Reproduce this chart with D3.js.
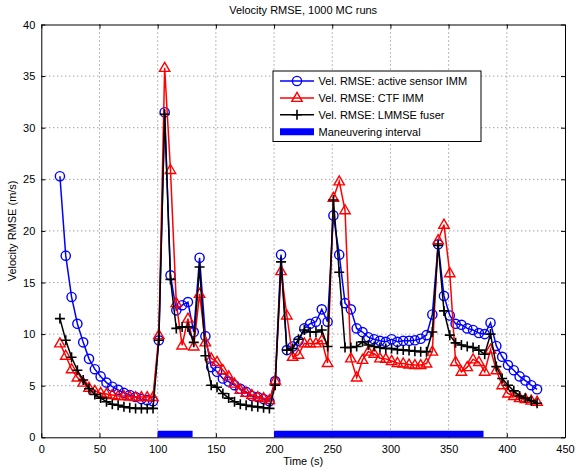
<!DOCTYPE html>
<html>
<head>
<meta charset="utf-8">
<script src="https://cdn.jsdelivr.net/npm/d3@7"></script>
<style>
body { margin: 0; background: #fff; }
text { font-family: "Liberation Sans", Arial, sans-serif; }
</style>
</head>
<body>
<script>
var w = 576;
var h = 468;

// time stamps (s)
var times = [16,21,26,31,36,41,46,51,56,61,66,71,76,81,86,91,96,
  101,106,111,116,121,126,131,136,141,146,151,156,161,166,171,176,181,186,191,196,
  201,206,211,216,221,226,231,236,241,246,251,256,261,266,271,276,281,286,291,296,
  301,306,311,316,321,326,331,336,341,346,351,356,361,366,371,376,381,386,391,396,
  401,406,411,416,421,426];

var activeImm = [25.3,17.6,13.6,11.0,9.2,7.6,6.6,5.9,5.3,4.9,4.6,4.3,4.1,3.9,3.7,3.6,3.5,
  9.4,31.5,15.7,12.3,12.8,13.1,10.2,17.4,9.8,6.8,6.35,5.7,5.4,5.05,4.7,4.4,4.0,3.9,3.7,3.5,
  5.45,17.7,8.45,8.8,9.35,10.55,11.0,11.2,12.4,11.2,21.5,17.7,13.0,12.4,10.55,10.2,9.7,9.5,9.35,9.25,
  9.5,9.25,9.35,9.35,9.4,9.55,9.9,11.9,18.7,13.7,11.8,11.0,10.9,10.55,10.4,10.1,10.0,11.1,8.85,7.8,
  7.0,6.5,5.9,5.5,5.05,4.65];

var ctfImm = [9.1,7.9,6.6,5.8,5.3,4.8,4.5,4.3,4.2,4.1,4.0,4.0,3.95,3.9,3.9,3.9,3.9,
  9.9,35.8,25.9,13.0,8.9,11.5,8.8,13.9,9.2,7.65,7.3,6.5,5.9,5.2,4.6,4.3,4.1,3.9,3.8,3.6,
  5.5,16.1,11.8,7.8,8.0,9.1,9.1,9.1,9.4,7.2,23.2,24.8,22.0,7.65,5.8,7.5,8.3,8.1,7.65,7.6,
  7.4,7.2,7.15,7.05,7.0,7.0,7.15,8.3,19.1,20.6,15.9,7.3,6.35,6.8,7.55,7.3,6.35,8.5,6.5,5.05,
  4.25,4.0,3.8,3.7,3.55,3.45];

var lmmse = [11.5,9.4,7.75,6.5,5.55,4.7,4.15,3.8,3.45,3.2,3.1,2.95,2.87,2.8,2.8,2.8,2.8,
  9.4,31.3,15.3,10.55,10.7,10.7,9.2,16.5,7.9,5.05,4.85,4.25,3.8,3.45,3.2,3.1,3.0,2.95,2.87,2.8,
  5.05,17.0,8.45,8.6,9.5,10.4,10.2,10.2,10.4,8.8,23.0,16.0,8.7,8.7,8.8,9.25,8.95,8.8,8.7,8.6,
  8.6,8.5,8.45,8.4,8.35,8.3,8.3,10.2,18.6,12.25,9.9,9.15,8.95,8.8,8.7,8.45,8.05,10.0,6.85,5.7,
  5.05,4.5,4.0,3.8,3.55,3.3];

// maneuvering intervals [start, end]
var maneuvers = [[100,130],[200,380]];
var maneuverLevel = 0.3;

var xTicks = [0,50,100,150,200,250,300,350,400,450];
var yTicks = [0,5,10,15,20,25,30,35,40];

var pLeft = 41.3, pRight = 565, pTop = 24.5, pBottom = 437.3;

var svg = d3.select("body")
            .append("svg")
            .attr("width", w)
            .attr("height", h);

var x = d3.scaleLinear().domain([0,450]).range([pLeft,pRight]);
var y = d3.scaleLinear().domain([0,40]).range([pBottom,pTop]);

svg.append("defs").append("clipPath").attr("id","clip")
   .append("rect").attr("x",pLeft).attr("y",pTop)
   .attr("width",pRight-pLeft).attr("height",pBottom-pTop);

/**** grid ****/
svg.selectAll("line.gx").data(xTicks.slice(1,-1)).enter().append("line")
   .attr("x1",function(d){return x(d);}).attr("x2",function(d){return x(d);})
   .attr("y1",pTop).attr("y2",pBottom)
   .attr("stroke","#777").attr("stroke-width",1).attr("stroke-dasharray","1,3");
svg.selectAll("line.gy").data(yTicks.slice(1,-1)).enter().append("line")
   .attr("y1",function(d){return y(d);}).attr("y2",function(d){return y(d);})
   .attr("x1",pLeft).attr("x2",pRight)
   .attr("stroke","#777").attr("stroke-width",1).attr("stroke-dasharray","1,3");

/**** axes (inward ticks, box) ****/
var fmt = d3.format("d");
svg.append("g").attr("transform","translate(0,"+pBottom+")")
   .call(d3.axisBottom(x).tickValues(xTicks).tickFormat(fmt).tickSizeInner(-4).tickSizeOuter(0).tickPadding(8));
svg.append("g").attr("transform","translate("+pLeft+",0)")
   .call(d3.axisLeft(y).tickValues(yTicks).tickFormat(fmt).tickSizeInner(-4).tickSizeOuter(0).tickPadding(6));
svg.append("g").attr("transform","translate(0,"+pTop+")")
   .call(d3.axisTop(x).tickValues(xTicks).tickFormat("").tickSizeInner(-4).tickSizeOuter(0));
svg.append("g").attr("transform","translate("+pRight+",0)")
   .call(d3.axisRight(y).tickValues(yTicks).tickFormat("").tickSizeInner(-4).tickSizeOuter(0));
svg.selectAll(".domain").attr("stroke","#000");
svg.selectAll(".tick line").attr("stroke","#000");
svg.selectAll(".tick text").attr("font-size","11px").attr("fill","#000")
   .style("font-family","'Liberation Sans', Arial, sans-serif");

/**** series ****/
var plot = svg.append("g").attr("clip-path","url(#clip)");

plot.selectAll("line.man").data(maneuvers).enter().append("line")
   .attr("x1",function(d){return x(d[0]);}).attr("x2",function(d){return x(d[1]);})
   .attr("y1",y(maneuverLevel)).attr("y2",y(maneuverLevel))
   .attr("stroke","#0000ff").attr("stroke-width",7);

function drawSeries(vals, color, marker){
  var pts = times.map(function(t,i){return [t, vals[i]];});
  var line = d3.line().x(function(d){return x(d[0]);}).y(function(d){return y(d[1]);});
  svg.append("path").datum(pts).attr("d",line)
     .attr("fill","none").attr("stroke",color).attr("stroke-width",1.5);
  var g = svg.append("g");
  pts.forEach(function(d){ drawMarker(g, x(d[0]), y(d[1]), color, marker); });
}

function drawMarker(g, cx, cy, color, marker){
  if(marker=="o"){
    g.append("circle").attr("cx",cx).attr("cy",cy).attr("r",4.6)
     .attr("fill","none").attr("stroke",color).attr("stroke-width",1.4);
  } else if(marker=="^"){
    g.append("path").attr("d","M"+cx+","+(cy-5.5)+"L"+(cx+5.2)+","+(cy+3.5)+"L"+(cx-5.2)+","+(cy+3.5)+"Z")
     .attr("fill","none").attr("stroke",color).attr("stroke-width",1.4);
  } else {
    g.append("path").attr("d","M"+(cx-5)+","+cy+"H"+(cx+5)+"M"+cx+","+(cy-5)+"V"+(cy+5))
     .attr("fill","none").attr("stroke",color).attr("stroke-width",1.6);
  }
}

drawSeries(activeImm, "#0000ff", "o");
drawSeries(ctfImm, "#ff0000", "^");
drawSeries(lmmse, "#000000", "+");

/**** labels ****/
svg.append("text").attr("x",(pLeft+pRight)/2).attr("y",14).attr("text-anchor","middle")
   .attr("font-size","11px").text("Velocity RMSE, 1000 MC runs");
svg.append("text").attr("x",(pLeft+pRight)/2).attr("y",465).attr("text-anchor","middle")
   .attr("font-size","11px").text("Time (s)");
svg.append("text").attr("transform","translate(16,"+((pTop+pBottom)/2)+") rotate(-90)")
   .attr("text-anchor","middle").attr("font-size","11px").text("Velocity RMSE (m/s)");

/**** legend ****/
var legendItems = [
  {label:"Vel. RMSE: active sensor IMM", color:"#0000ff", marker:"o"},
  {label:"Vel. RMSE: CTF IMM", color:"#ff0000", marker:"^"},
  {label:"Vel. RMSE: LMMSE fuser", color:"#000000", marker:"+"},
  {label:"Maneuvering interval", color:"#0000ff", marker:"bar"}
];
var lg = svg.append("g");
lg.append("rect").attr("x",273).attr("y",71).attr("width",208).attr("height",70.5)
  .attr("fill","#fff").attr("stroke","#000").attr("stroke-width",1);
legendItems.forEach(function(d,i){
  var ly = 81 + i*16.9;
  if(d.marker=="bar"){
    lg.append("line").attr("x1",280).attr("x2",314).attr("y1",ly).attr("y2",ly)
      .attr("stroke",d.color).attr("stroke-width",7);
  } else {
    lg.append("line").attr("x1",280).attr("x2",314).attr("y1",ly).attr("y2",ly)
      .attr("stroke",d.color).attr("stroke-width",1.5);
    drawMarker(lg, 297, ly, d.color, d.marker);
  }
  lg.append("text").attr("x",318.5).attr("y",ly+4).attr("font-size","11px").text(d.label);
});
</script>
</body>
</html>
